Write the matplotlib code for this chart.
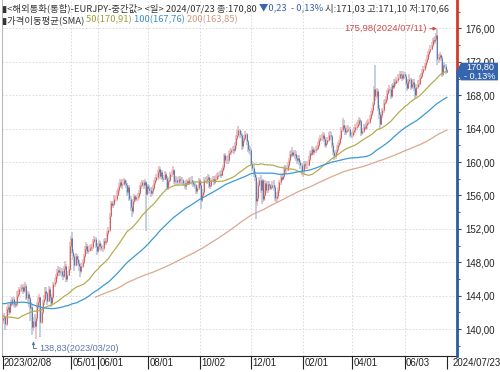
import matplotlib
matplotlib.use('Agg')
import matplotlib.pyplot as plt
import matplotlib.transforms as mtransforms
from matplotlib.patches import Polygon
import numpy as np
import pandas as pd

plt.rcParams['font.family'] = ['Noto Sans CJK KR', 'DejaVu Sans']
NUM_FONT = ['Liberation Sans', 'DejaVu Sans']

# ---- data (EURJPY daily) ----
# closes before the visible window, only used to seed the moving averages
pre_closes = [
    136.8, 137.4, 137.0,
    137.9, 138.6, 139.1, 138.7, 139.0, 140.5, 141.6, 143.6, 143.9, 144.2,
    144.9, 143.5, 143.6, 143.0, 143.3, 143.5, 143.3, 142.5, 141.4, 140.0,
    138.9, 139.2, 139.8, 141.5, 141.8, 142.8, 144.6, 143.7, 143.2, 142.5,
    142.8, 142.7, 143.6, 144.8, 144.8, 145.9, 146.4, 146.7, 146.8, 146.6,
    146.0, 147.4, 148.3, 146.5, 146.7, 147.0, 146.4, 145.9, 145.4, 146.2,
    147.2, 147.7, 146.6, 145.0, 144.7, 144.7, 145.3, 145.4, 145.0, 145.2,
    144.3, 144.6, 144.7, 144.6, 144.3, 144.0, 143.8, 143.7, 143.0, 142.3,
    143.3, 143.6, 143.2, 143.8, 143.0, 144.2, 144.5, 145.0, 144.5, 145.2,
    144.8, 139.9, 140.6, 140.3, 141.6, 141.8, 142.0, 140.8, 140.9, 140.4,
    140.9, 138.2, 138.6, 138.4, 140.2, 141.0, 141.6, 141.9, 140.8, 139.4,
    139.2, 138.5, 139.0, 140.1, 140.9, 141.9, 141.4, 141.3, 141.7, 141.6,
    141.1, 141.4, 142.5, 142.1, 142.0, 141.4, 141.1,
]

opens = [
    141.1, 141.3, 141.4,
    140.6, 142.4, 142.6, 142.0, 143.1, 143.0, 143.6, 143.0, 142.9, 143.0,
    144.0, 144.2, 144.8, 144.9, 145.0, 144.6, 145.0, 145.2, 143.7, 144.2,
    143.7, 142.5, 142.6, 140.2, 141.0, 140.4, 141.3, 142.9, 143.2, 143.8,
    140.9, 142.0, 143.2, 143.6, 144.6, 144.3, 143.4, 144.8, 143.8, 143.1,
    143.8, 145.4, 145.7, 146.3, 146.8, 147.1, 146.8, 147.0, 146.5, 146.3,
    147.2, 147.6, 146.0, 146.5, 147.2, 150.0, 150.9, 149.2, 148.8, 147.7,
    148.7, 148.4, 147.9, 147.5, 146.9, 147.6, 148.0, 148.7, 149.6, 150.0,
    149.3, 149.5, 149.7, 149.8, 149.8, 150.5, 150.8, 150.0, 149.3, 149.9,
    150.3, 149.9, 149.7, 149.7, 150.5, 150.4, 150.5, 151.5, 151.9, 153.6,
    155.1, 154.9, 155.0, 155.6, 155.6, 156.1, 156.6, 157.1, 157.6, 157.2,
    157.4, 157.8, 157.5, 157.2, 156.4, 157.0, 155.6, 154.6, 154.1, 155.4,
    155.9, 155.6, 155.8, 155.9, 156.3, 157.1, 157.3, 157.6, 157.3, 157.6,
    156.2, 157.1, 156.9, 156.7, 156.3, 156.5, 156.9, 157.5, 157.9, 158.2,
    158.8, 159.2, 158.3, 158.8, 158.1, 158.0, 158.6, 158.1, 156.9, 157.7,
    157.8, 158.6, 158.6, 159.0, 157.7, 157.8, 157.9, 157.6, 158.0, 157.8,
    157.8, 157.8, 157.5, 157.1, 157.5, 157.7, 157.5, 157.8, 157.8, 157.6,
    157.4, 157.3, 157.2, 156.5, 156.9, 157.8, 157.2, 155.5, 156.1, 156.4,
    157.9, 157.8, 158.0, 158.2, 157.1, 157.3, 157.9, 158.0, 157.6, 158.0,
    158.0, 158.3, 158.5, 158.6, 158.5, 159.0, 159.4, 160.8, 160.2, 160.3,
    160.2, 161.1, 161.2, 161.4, 161.6, 161.4, 162.0, 162.9, 163.3, 163.8,
    163.4, 163.3, 161.9, 162.6, 162.9, 163.4, 162.5, 161.6, 161.5, 161.5,
    159.8, 159.3, 158.6, 158.2, 155.3, 155.7, 157.3, 157.9, 156.7, 157.8,
    155.6, 156.1, 157.5, 156.6, 157.4, 157.3, 156.9, 157.0, 157.3, 157.0,
    155.7, 155.7, 155.9, 156.6, 157.6, 158.2, 158.0, 158.3, 159.2, 159.0,
    159.1, 159.6, 160.2, 161.0, 160.9, 161.2, 160.9, 161.0, 160.5, 160.2,
    160.5, 160.0, 159.6, 158.9, 158.9, 159.8, 159.6, 159.6, 159.7, 160.4,
    161.1, 161.0, 161.6, 161.2, 161.4, 161.6, 161.7, 162.1, 162.6, 162.9,
    162.9, 163.2, 162.8, 162.1, 162.3, 162.6, 163.3, 163.3, 163.1, 162.0,
    161.2, 160.7, 161.2, 161.6, 162.1, 162.3, 162.9, 163.9, 164.4, 164.1,
    163.6, 163.7, 163.9, 164.0, 163.3, 163.2, 163.3, 163.6, 163.8, 164.2,
    164.3, 164.6, 165.0, 164.9, 163.5, 163.7, 164.2, 164.1, 164.4, 164.7,
    164.8, 165.3, 165.8, 166.2, 166.9, 168.8, 167.9, 168.5, 166.5, 165.8,
    164.6, 165.6, 166.2, 167.1, 167.2, 167.6, 168.3, 168.6, 168.8, 167.9,
    169.2, 169.0, 169.6, 169.5, 169.8, 170.1, 170.1, 170.5, 170.4, 170.1,
    170.6, 170.3, 169.5, 168.9, 169.7, 170.0, 169.0, 169.3, 169.6, 168.9,
    168.0, 169.0, 169.4, 169.4, 170.1, 170.3, 170.8, 171.2, 171.6, 172.0,
    172.4, 172.9, 173.3, 173.6, 174.0, 174.6, 174.5, 174.7, 175.2, 172.3,
    172.6, 172.8, 172.5, 170.6, 171.6, 171.5, 171.03,
]

highs = [
    141.7, 141.9, 141.6,
    142.6, 143.0, 142.9, 143.3, 143.5, 143.9, 143.9, 143.4, 143.4, 144.6,
    144.7, 145.1, 145.3, 145.4, 145.2, 145.4, 145.6, 145.4, 144.6, 144.5,
    143.9, 143.3, 142.9, 141.4, 141.8, 141.6, 143.2, 143.8, 144.2, 143.9,
    142.4, 143.5, 144.1, 145.0, 145.0, 144.4, 145.2, 145.0, 144.0, 144.2,
    145.7, 146.1, 146.6, 147.2, 147.6, 147.3, 147.4, 147.3, 146.9, 147.5,
    148.2, 147.8, 146.9, 147.6, 150.4, 151.2, 151.6, 149.6, 149.0, 149.1,
    149.0, 148.7, 148.3, 147.8, 147.9, 148.4, 149.0, 149.9, 150.4, 150.2,
    149.9, 150.1, 150.2, 150.2, 150.8, 151.1, 151.0, 150.3, 150.2, 150.7,
    150.5, 150.2, 150.1, 150.8, 150.9, 150.9, 151.8, 152.2, 153.9, 155.3,
    155.4, 155.4, 156.0, 156.1, 156.6, 156.9, 157.5, 158.0, 157.9, 158.0,
    158.1, 158.0, 157.9, 157.5, 157.3, 157.2, 155.9, 154.9, 155.6, 156.2,
    156.1, 156.1, 156.3, 156.6, 157.3, 157.6, 157.9, 157.9, 158.0, 157.7,
    157.4, 157.4, 157.2, 157.0, 157.0, 157.2, 157.8, 158.2, 158.6, 159.1,
    159.5, 159.4, 159.1, 159.0, 158.5, 158.9, 158.8, 158.3, 158.0, 158.2,
    158.8, 159.1, 159.5, 159.2, 158.2, 158.3, 158.2, 158.3, 158.3, 158.2,
    158.2, 158.0, 157.7, 157.8, 158.0, 157.9, 158.1, 158.2, 158.3, 157.9,
    157.7, 157.6, 157.4, 157.2, 158.1, 158.0, 157.6, 156.4, 156.8, 158.2,
    158.2, 158.3, 158.6, 158.4, 157.7, 158.1, 158.3, 158.3, 158.3, 158.4,
    158.7, 158.8, 158.9, 159.0, 159.3, 159.7, 161.0, 161.1, 160.7, 160.9,
    161.3, 161.6, 161.7, 161.9, 161.9, 162.4, 163.2, 163.8, 164.3, 164.0,
    163.7, 163.5, 162.9, 163.2, 163.7, 163.5, 162.7, 162.1, 161.9, 161.7,
    160.1, 159.6, 158.9, 158.4, 156.4, 157.6, 158.2, 158.4, 158.0, 158.0,
    156.5, 157.8, 157.7, 157.7, 157.7, 157.4, 157.4, 157.7, 157.8, 157.2,
    156.0, 156.4, 157.0, 157.9, 158.6, 158.5, 158.7, 159.5, 159.6, 159.6,
    160.0, 160.5, 161.3, 161.5, 161.8, 161.5, 161.4, 161.3, 160.8, 160.9,
    160.8, 160.3, 159.9, 159.4, 160.1, 160.1, 160.0, 160.1, 160.7, 161.3,
    161.5, 161.9, 161.8, 161.7, 161.9, 162.0, 162.4, 162.9, 163.3, 163.4,
    163.6, 163.5, 163.0, 162.6, 163.0, 163.6, 163.7, 163.6, 163.3, 162.3,
    161.4, 161.5, 162.0, 162.4, 162.7, 163.3, 164.2, 165.3, 165.0, 164.4,
    164.1, 164.3, 164.4, 164.2, 163.6, 163.6, 163.9, 164.2, 164.6, 164.8,
    165.0, 165.4, 165.3, 165.1, 164.1, 164.6, 164.6, 164.8, 165.0, 165.2,
    165.6, 166.1, 166.5, 167.2, 169.1, 171.6, 168.9, 168.8, 166.8, 166.0,
    165.9, 166.5, 167.4, 167.6, 167.9, 168.6, 168.9, 169.2, 169.0, 169.4,
    169.5, 169.9, 169.9, 170.2, 170.5, 170.5, 170.9, 170.9, 170.6, 170.9,
    170.8, 170.5, 169.8, 170.0, 170.5, 170.1, 169.7, 170.0, 169.9, 169.2,
    169.3, 169.8, 169.8, 170.4, 170.7, 171.1, 171.5, 171.9, 172.3, 172.8,
    173.3, 173.6, 174.0, 174.4, 174.9, 175.0, 175.1, 175.5, 175.98, 173.0,
    173.2, 173.0, 172.7, 171.9, 172.0, 171.7, 171.10,
]

lows = [
    140.6, 140.9, 139.9,
    140.4, 142.0, 141.7, 141.8, 142.7, 142.8, 142.7, 142.5, 142.6, 142.8,
    143.7, 144.0, 144.4, 144.5, 144.2, 144.3, 144.6, 143.5, 143.2, 142.7,
    141.0, 141.9, 139.3, 139.8, 140.1, 138.83, 141.0, 142.6, 142.4, 139.1,
    140.6, 141.8, 142.9, 143.4, 143.9, 142.9, 143.2, 143.5, 142.6, 142.9,
    143.6, 145.1, 145.4, 146.0, 146.6, 146.3, 146.4, 146.2, 145.9, 146.1,
    147.0, 145.7, 145.6, 146.3, 147.0, 149.7, 149.0, 148.3, 146.9, 147.5,
    148.0, 147.5, 147.0, 146.2, 146.6, 147.3, 147.8, 148.5, 149.3, 149.0,
    149.0, 149.2, 149.4, 149.3, 149.6, 150.3, 149.7, 148.9, 149.1, 149.6,
    149.5, 149.3, 149.2, 149.5, 150.1, 150.1, 150.3, 151.2, 151.6, 153.4,
    154.6, 154.5, 154.7, 155.2, 155.3, 155.9, 156.3, 156.9, 156.9, 156.8,
    157.2, 157.1, 156.9, 155.9, 156.1, 155.3, 154.2, 153.4, 153.8, 155.0,
    155.2, 155.3, 155.4, 155.6, 156.0, 156.8, 157.0, 156.8, 156.9, 151.8,
    155.9, 156.5, 156.2, 155.8, 155.9, 156.2, 156.6, 157.2, 157.6, 157.9,
    158.5, 158.0, 158.0, 157.8, 157.6, 157.8, 157.8, 156.6, 156.6, 157.3,
    157.6, 158.2, 158.4, 157.4, 157.3, 157.5, 157.2, 157.2, 157.4, 157.4,
    157.4, 157.1, 156.8, 156.6, 157.2, 157.2, 157.3, 157.4, 157.2, 157.0,
    157.0, 156.8, 156.2, 156.2, 156.7, 156.9, 154.4, 155.2, 155.8, 156.1,
    157.5, 157.4, 157.7, 156.9, 156.8, 157.0, 157.6, 157.3, 157.4, 157.6,
    157.8, 158.0, 158.2, 158.1, 158.3, 158.8, 159.0, 159.9, 159.8, 159.8,
    160.0, 160.8, 160.9, 161.1, 161.0, 161.2, 161.6, 162.6, 163.0, 162.9,
    162.9, 161.5, 161.6, 162.3, 162.6, 162.1, 161.2, 161.1, 160.9, 159.5,
    158.9, 158.2, 157.7, 153.2, 154.7, 155.4, 157.0, 156.3, 155.0, 155.2,
    155.3, 155.9, 156.3, 156.3, 156.9, 156.6, 156.6, 156.8, 156.5, 155.3,
    155.2, 155.2, 155.6, 156.3, 157.2, 157.7, 157.8, 158.1, 158.6, 158.7,
    158.9, 159.3, 159.9, 160.5, 160.7, 160.6, 160.4, 160.1, 159.8, 160.0,
    159.6, 159.2, 158.5, 158.2, 158.6, 159.2, 159.2, 159.2, 159.5, 160.1,
    160.7, 160.7, 160.8, 160.9, 161.1, 161.3, 161.4, 161.8, 162.4, 162.5,
    162.7, 162.4, 161.8, 161.7, 162.0, 162.4, 162.9, 162.7, 161.7, 160.9,
    160.2, 160.4, 161.0, 161.3, 161.8, 162.0, 162.6, 163.6, 163.8, 163.3,
    163.3, 163.5, 163.6, 163.0, 162.9, 162.9, 163.0, 163.3, 163.5, 163.9,
    164.1, 164.3, 164.4, 163.1, 163.2, 163.5, 163.8, 163.9, 164.0, 164.4,
    164.6, 165.0, 165.5, 165.9, 166.7, 167.3, 167.5, 166.1, 165.2, 164.0,
    164.4, 165.3, 165.9, 166.8, 166.9, 167.3, 168.0, 168.3, 167.6, 167.7,
    168.7, 168.8, 169.1, 169.3, 169.5, 169.8, 169.9, 170.0, 169.7, 169.8,
    170.0, 169.2, 168.5, 168.7, 169.4, 168.6, 168.8, 169.0, 168.5, 167.5,
    167.8, 168.7, 169.0, 169.2, 169.9, 170.1, 170.5, 170.9, 171.3, 171.8,
    172.2, 172.6, 173.1, 173.4, 173.8, 174.1, 174.2, 174.5, 171.6, 171.9,
    172.3, 172.1, 170.2, 170.3, 171.1, 170.6, 170.66,
]

closes = [
    141.3, 141.4, 140.6,
    142.4, 142.6, 142.0, 143.1, 143.0, 143.6, 143.0, 142.9, 143.0, 144.0,
    144.2, 144.8, 144.9, 145.0, 144.6, 145.0, 145.2, 143.7, 144.2, 143.7,
    142.5, 142.6, 140.2, 141.0, 140.4, 141.3, 142.9, 143.2, 143.8, 140.9,
    142.0, 143.2, 143.6, 144.6, 144.3, 143.4, 144.8, 143.8, 143.1, 143.8,
    145.4, 145.7, 146.3, 146.8, 147.1, 146.8, 147.0, 146.5, 146.3, 147.2,
    147.6, 146.0, 146.5, 147.2, 150.0, 150.9, 149.2, 148.8, 147.7, 148.7,
    148.4, 147.9, 147.5, 146.9, 147.6, 148.0, 148.7, 149.6, 150.0, 149.3,
    149.5, 149.7, 149.8, 149.8, 150.5, 150.8, 150.0, 149.3, 149.9, 150.3,
    149.9, 149.7, 149.7, 150.5, 150.4, 150.5, 151.5, 151.9, 153.6, 155.1,
    154.9, 155.0, 155.6, 155.6, 156.1, 156.6, 157.1, 157.6, 157.2, 157.4,
    157.8, 157.5, 157.2, 156.4, 157.0, 155.6, 154.6, 154.1, 155.4, 155.9,
    155.6, 155.8, 155.9, 156.3, 157.1, 157.3, 157.6, 157.3, 157.6, 156.2,
    157.1, 156.9, 156.7, 156.3, 156.5, 156.9, 157.5, 157.9, 158.2, 158.8,
    159.2, 158.3, 158.8, 158.1, 158.0, 158.6, 158.1, 156.9, 157.7, 157.8,
    158.6, 158.6, 159.0, 157.7, 157.8, 157.9, 157.6, 158.0, 157.8, 157.8,
    157.8, 157.5, 157.1, 157.5, 157.7, 157.5, 157.8, 157.8, 157.6, 157.4,
    157.3, 157.2, 156.5, 156.9, 157.8, 157.2, 155.5, 156.1, 156.4, 157.9,
    157.8, 158.0, 158.2, 157.1, 157.3, 157.9, 158.0, 157.6, 158.0, 158.0,
    158.3, 158.5, 158.6, 158.5, 159.0, 159.4, 160.8, 160.2, 160.3, 160.2,
    161.1, 161.2, 161.4, 161.6, 161.4, 162.0, 162.9, 163.3, 163.8, 163.4,
    163.3, 161.9, 162.6, 162.9, 163.4, 162.5, 161.6, 161.5, 161.5, 159.8,
    159.3, 158.6, 158.2, 155.3, 155.7, 157.3, 157.9, 156.7, 157.8, 155.6,
    156.1, 157.5, 156.6, 157.4, 157.3, 156.9, 157.0, 157.3, 157.0, 155.7,
    155.7, 155.9, 156.6, 157.6, 158.2, 158.0, 158.3, 159.2, 159.0, 159.1,
    159.6, 160.2, 161.0, 160.9, 161.2, 160.9, 161.0, 160.5, 160.2, 160.5,
    160.0, 159.6, 158.9, 158.9, 159.8, 159.6, 159.6, 159.7, 160.4, 161.1,
    161.0, 161.6, 161.2, 161.4, 161.6, 161.7, 162.1, 162.6, 162.9, 162.9,
    163.2, 162.8, 162.1, 162.3, 162.6, 163.3, 163.3, 163.1, 162.0, 161.2,
    160.7, 161.2, 161.6, 162.1, 162.3, 162.9, 163.9, 164.4, 164.1, 163.6,
    163.7, 163.9, 164.0, 163.3, 163.2, 163.3, 163.6, 163.8, 164.2, 164.3,
    164.6, 165.0, 164.9, 163.5, 163.7, 164.2, 164.1, 164.4, 164.7, 164.8,
    165.3, 165.8, 166.2, 166.9, 168.8, 167.9, 168.5, 166.5, 165.8, 164.6,
    165.6, 166.2, 167.1, 167.2, 167.6, 168.3, 168.6, 168.8, 167.9, 169.2,
    169.0, 169.6, 169.5, 169.8, 170.1, 170.1, 170.5, 170.4, 170.1, 170.6,
    170.3, 169.5, 168.9, 169.7, 170.0, 169.0, 169.3, 169.6, 168.9, 168.0,
    169.0, 169.4, 169.4, 170.1, 170.3, 170.8, 171.2, 171.6, 172.0, 172.4,
    172.9, 173.3, 173.6, 174.0, 174.6, 174.5, 174.7, 175.2, 172.3, 172.6,
    172.8, 172.5, 170.6, 171.6, 171.5, 171.03, 170.80,
]

ma_windows = [50, 100, 200]
ma_colors = ['#b3ad52', '#3d9ad1', '#dca890']
ma_text_colors = ['#a39c3a', '#3d8ec4', '#d39a80']
ma_header_values = ['170,91', '167,76', '163,85']
x_labels = ['2023/02/08', '05/01', '06/01', '08/01', '10/02', '12/01',
            '02/01', '04/01', '06/03', '2024/07/23']
x_label_dates = ['2023-02-08', '2023-05-01', '2023-06-01', '2023-08-01', '2023-10-02',
                 '2023-12-01', '2024-02-01', '2024-04-01', '2024-06-03', '2024-07-23']
y_ticks = list(range(140, 177, 4))

dates = pd.bdate_range('2023-02-08', '2024-07-23')
o = np.array(opens)
h = np.array(highs)
l = np.array(lows)
c = np.array(closes)
idx = np.arange(len(c))

full = pd.Series(pre_closes + closes)
n_pre = len(pre_closes)

fig = plt.figure(figsize=(5.0, 3.72), dpi=100)
ax = fig.add_axes([2 / 500, 16 / 372, 455 / 500, 356 / 372])

ylo, yhi = 136.78, 179.41
ax.set_ylim(ylo, yhi)
ax.set_xlim(-0.85, 387.7)

# grid
for v in y_ticks:
    ax.axhline(v, color='#d6d6d6', lw=0.6, ls=(0, (2, 2)), zorder=0)
tick_pos = [int(dates.get_loc(pd.Timestamp(d))) for d in x_label_dates]
for p in tick_pos[1:-1]:
    ax.axvline(p, color='#d6d6d6', lw=0.6, ls=(0, (2, 2)), zorder=0)

# candles
up = c >= o
ax.vlines(idx[up], l[up], h[up], color='#e8b6b6', lw=1.1, zorder=2)
ax.vlines(idx[~up], l[~up], h[~up], color='#b4c4da', lw=1.1, zorder=2)
ax.vlines(idx[up], o[up], c[up], color='#d26262', lw=0.75, zorder=3)
ax.vlines(idx[~up], o[~up], c[~up], color='#5c7cae', lw=0.75, zorder=3)

# moving averages
for w, col in zip(ma_windows, ma_colors):
    ma = full.rolling(w).mean().values[n_pre:]
    ax.plot(idx, ma, color=col, lw=0.9, zorder=4)

# axes styling
for s in ['top', 'right']:
    ax.spines[s].set_visible(False)
ax.spines['left'].set_color('#b8b8b8')
ax.spines['bottom'].set_color('#222222')
ax.yaxis.tick_right()
ax.set_yticks(y_ticks)
ax.set_yticklabels([f'{v:.2f}'.replace('.', ',') for v in y_ticks],
                   family=NUM_FONT, fontsize=7, color='#222222')
ax.set_yticks(range(138, 179, 2), minor=True)
ax.tick_params(axis='y', which='major', length=3, width=0.8, pad=3, color='#444444')
ax.tick_params(axis='y', which='minor', length=2, width=0.6, color='#444444')

ax.set_xticks(tick_pos)
ax.set_xticklabels(x_labels, family=NUM_FONT, fontsize=6.9, color='#222222', ha='left')
ax.tick_params(axis='x', length=9, width=0.8, pad=-6, color='#222222')
for i, t in enumerate(ax.get_xticklabels()):
    dx = 1.0 if i < len(x_labels) - 1 else 4.2
    if i == 0:
        dx = 0.3
    t.set_transform(t.get_transform() + mtransforms.ScaledTranslation(dx / 72, 1.5 / 72, fig.dpi_scale_trans))

# right price rail (red above the last price, blue below)
last = c[-1]
xr = ax.get_xlim()[1]
ax.plot([xr, xr], [last, yhi], color='#d23b2b', lw=2, clip_on=False, zorder=6)
ax.plot([xr, xr], [ylo, last], color='#2d5aa3', lw=2, clip_on=False, zorder=6)

# last price box (covers part of the tick label behind it, as in the source)
px = 1 / 1.171
py = 1 / 8.35
box = Polygon([[xr - 1 * px, last], [xr + 4 * px, last + 9.2 * py], [xr + 41 * px, last + 9.2 * py],
               [xr + 41 * px, last - 8.5 * py], [xr + 4 * px, last - 8.5 * py]],
              closed=True, facecolor='#3565ad', edgecolor='none', clip_on=False, zorder=7)
ax.add_patch(box)
ax.text(xr + 23 * px, last + 4.4 * py, f'{last:.2f}'.replace('.', ','), color='white',
        fontsize=6.6, ha='center', va='center', family=NUM_FONT, zorder=8)
ax.text(xr + 23 * px, last - 4.0 * py, '- 0,13%', color='white',
        fontsize=6.6, ha='center', va='center', family=NUM_FONT, zorder=8)

# max / min annotations
imax = int(np.argmax(h))
imin = int(np.argmin(l))
ax.annotate(f'{h[imax]:.2f}({dates[imax]:%Y/%m/%d})'.replace('.', ','), xy=(imax - 0.5, h[imax]),
            xytext=(-7, 0), textcoords='offset points', ha='right', va='center',
            fontsize=6.8, color='#d04a4a', family=NUM_FONT,
            arrowprops=dict(arrowstyle='-|>', color='#d04a4a', lw=0.7, mutation_scale=5,
                            shrinkA=0, shrinkB=0))
ax.annotate(f'{l[imin]:.2f}({dates[imin]:%Y/%m/%d})'.replace('.', ','), xy=(imin - 2, l[imin] - 0.3),
            xytext=(4, -5), textcoords='offset points', ha='left', va='center',
            fontsize=6.6, color='#5a78a8', family=NUM_FONT,
            arrowprops=dict(arrowstyle='-|>', color='#5a78a8', lw=0.7, mutation_scale=4,
                            shrinkA=0, shrinkB=0, connectionstyle='angle,angleA=0,angleB=90,rad=0'))

# header lines
fs = 6.75
t1 = fig.text(2 / 500, 1 - 8 / 372, '▮<해외통화(통합)-EURJPY-중간값> <일> 2024/07/23 종:170,80 ',
              fontsize=fs, color='#333333', va='center')
t2 = plt.annotate('▼0,23  - 0,13% ', xy=(1, 0.5), xycoords=t1, va='center', fontsize=fs, color='#3a64b0')
plt.annotate('시:171,03 고:171,10 저:170,66', xy=(1, 0.5), xycoords=t2, va='center', fontsize=fs, color='#333333')

s1 = fig.text(2 / 500, 1 - 20 / 372, '▮가격이동평균(SMA) ', fontsize=fs, color='#333333', va='center')
prev = s1
for w, col, v in zip(ma_windows, ma_text_colors, ma_header_values):
    prev = plt.annotate(f'{w}({v}) ', xy=(1, 0.5), xycoords=prev,
                        va='center', fontsize=fs, color=col)

fig.savefig('out.png', dpi=100)
